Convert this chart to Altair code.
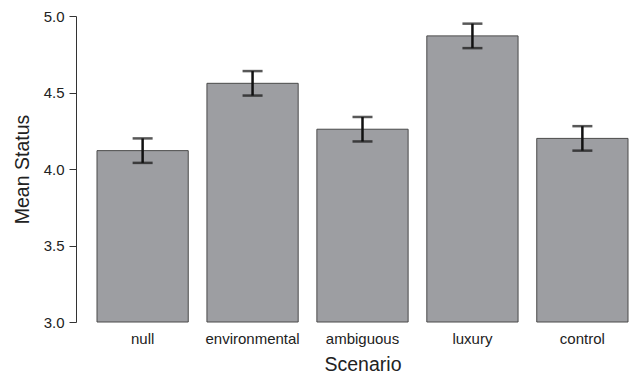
import altair as alt
import pandas as pd

# Mean status rating per scenario, with standard errors
scenarios = ["null", "environmental", "ambiguous", "luxury", "control"]
means = [4.12, 4.56, 4.26, 4.87, 4.20]
errors = [0.08, 0.08, 0.08, 0.08, 0.08]

df = pd.DataFrame({"Scenario": scenarios, "mean": means, "se": errors})
df["lo"] = df["mean"] - df["se"]
df["hi"] = df["mean"] + df["se"]

font = "Liberation Sans"

x = alt.X(
    "Scenario:N",
    sort=scenarios,
    scale=alt.Scale(paddingInner=0.17, paddingOuter=0.0),
    axis=alt.Axis(
        title="Scenario", domain=False, ticks=False, labelAngle=0,
        labelPadding=9, labelFontSize=15, labelFont=font, labelColor="#222",
        titleFontSize=19.5, titleFont=font, titleFontWeight="normal",
        titleColor="#222", titlePadding=9,
    ),
)
yscale = alt.Scale(domain=[3, 5], nice=False, zero=False)

bars = alt.Chart(df).mark_bar(
    color="#9d9ea2", stroke="#4a4a4a", strokeWidth=1
).encode(
    x=x,
    y=alt.Y(
        "mean:Q", scale=yscale,
        axis=alt.Axis(
            title="Mean Status", values=[3.0, 3.5, 4.0, 4.5, 5.0], format=".1f",
            grid=False, offset=21, domainColor="#333", tickColor="#333",
            tickSize=7, labelPadding=5, labelFontSize=15, labelFont=font,
            labelColor="#222", titleFontSize=19.5, titleFont=font,
            titleFontWeight="normal", titleColor="#222", titlePadding=11,
        ),
    ),
    y2=alt.datum(3.0),
)

stems = alt.Chart(df).mark_rule(color="#111", strokeWidth=2.5).encode(
    x=alt.X("Scenario:N", sort=scenarios),
    y=alt.Y("lo:Q", scale=yscale),
    y2="hi:Q",
)

caps_lo = alt.Chart(df).mark_tick(color="#111", thickness=2.5, size=20).encode(
    x=alt.X("Scenario:N", sort=scenarios),
    y=alt.Y("lo:Q", scale=yscale),
)
caps_hi = alt.Chart(df).mark_tick(color="#111", thickness=2.5, size=20).encode(
    x=alt.X("Scenario:N", sort=scenarios),
    y=alt.Y("hi:Q", scale=yscale),
)

chart = (
    alt.layer(bars, stems, caps_lo, caps_hi)
    .properties(
        width=531, height=306,
        autosize=alt.AutoSizeParams(type="none"),
        padding={"left": 97, "top": 16, "right": 2, "bottom": 54},
    )
    .configure(background="white")
    .configure_view(stroke="transparent", strokeWidth=0)
)

chart.save("out.html", embed_options={"renderer": "svg", "actions": False})
